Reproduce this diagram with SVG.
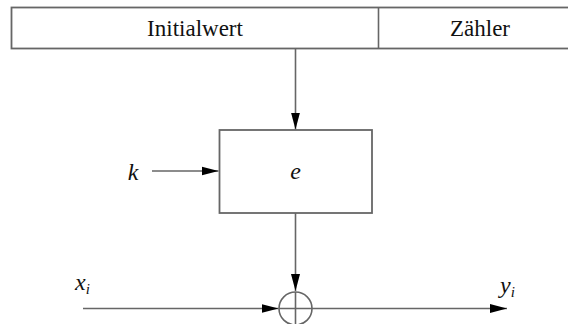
<svg xmlns="http://www.w3.org/2000/svg" width="568" height="324" viewBox="0 0 568 324">
<style>
.ln{stroke:#666;stroke-width:1.6;fill:none}
.box{stroke:#666;stroke-width:1.8;fill:#fff}
.t{font-family:'Liberation Serif','DejaVu Serif','Times New Roman',serif;font-size:23px;fill:#111}
.m{font-family:'Liberation Serif','DejaVu Serif','Times New Roman',serif;font-style:italic;font-size:24px;fill:#111}
.s{font-family:'Liberation Serif','DejaVu Serif','Times New Roman',serif;font-style:italic;font-size:15px;fill:#111}
</style>
<defs>
<marker id="ah" markerUnits="userSpaceOnUse" markerWidth="18" markerHeight="10" refX="17" refY="5" orient="auto">
<path d="M0,0.5 L17,5 L0,9.5 Z" fill="#000"/>
</marker>
</defs>
<rect width="568" height="324" fill="#fff"/>
<g id="register">
<rect class="box" x="11.5" y="7.5" width="570" height="41"/>
<line class="ln" x1="378.5" y1="7.5" x2="378.5" y2="48.5"/>
<text class="t" x="195" y="36" text-anchor="middle">Initialwert</text>
<text class="t" x="480" y="36" text-anchor="middle">Zähler</text>
</g>
<g id="e-box">
<rect class="box" x="219.5" y="130" width="152.5" height="83"/>
<text class="m" x="295.5" y="179" text-anchor="middle">e</text>
</g>
<g id="k-label">
<text class="m" x="133" y="180" text-anchor="middle">k</text>
</g>
<g id="xor">
<circle class="ln" cx="295.5" cy="308.5" r="16.5"/>
<line class="ln" x1="295.5" y1="292" x2="295.5" y2="325"/>
<line class="ln" x1="279" y1="308.5" x2="312" y2="308.5"/>
</g>
<g id="x-label">
<text class="m" x="75" y="290">x<tspan class="s" dy="4">i</tspan></text>
</g>
<g id="y-label">
<text class="m" x="500" y="293">y<tspan class="s" dy="4">i</tspan></text>
</g>
<g id="connectors">
<line class="ln" x1="295.5" y1="48.5" x2="295.5" y2="129.5" marker-end="url(#ah)"/>
<line class="ln" x1="152" y1="171" x2="218.5" y2="171" marker-end="url(#ah)"/>
<line class="ln" x1="295.5" y1="213" x2="295.5" y2="291" marker-end="url(#ah)"/>
<line class="ln" x1="83" y1="308.5" x2="278.5" y2="308.5" marker-end="url(#ah)"/>
<line class="ln" x1="312" y1="308.5" x2="507" y2="308.5" marker-end="url(#ah)"/>
</g>
</svg>
